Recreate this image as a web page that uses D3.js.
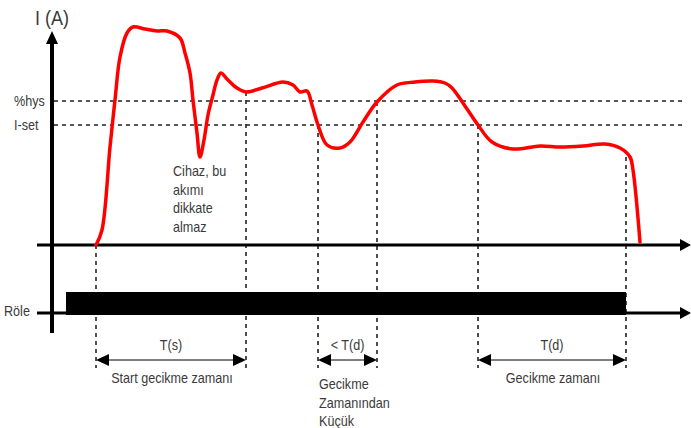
<!DOCTYPE html>
<html>
<head>
<meta charset="utf-8">
<script src="https://cdn.jsdelivr.net/npm/d3@7"></script>
<style>
  body { margin: 0; background: #fff; }
  svg text { font-family: "Liberation Sans Narrow", "Arial Narrow", "Liberation Sans", sans-serif; fill: #3a3a3a; }
</style>
</head>
<body>
<svg id="drawing_region"></svg>
<script>
// current curve (time, amps)
const curveT = [22, 25, 29, 31.5, 34, 37.5, 40.5, 46.5, 52.5, 57.5, 64, 66.5, 69, 70.5, 72.5, 74, 76, 78, 80.5, 82.5, 84.5, 87.5, 92.5, 97,
                105, 115.5, 120.5, 124, 127.5, 130, 133, 137.5, 144, 149, 155.5, 162.5, 172.5, 181.5, 190.5, 196.5, 200, 206.5,
                213, 220, 230.5, 244, 254, 265.5, 276.5, 284, 289, 290.5, 294];
const curveI = [0, 0.75, 4.9, 7.25, 9.4, 10.6, 10.9, 10.8, 10.7, 10.7, 10.35, 9.6, 8.6, 7.25, 5.6, 4.4, 5.25, 6.5, 7.5, 8.25, 8.6, 8.3, 7.85, 7.65,
                7.85, 8.15, 8.0, 7.65, 7.7, 7.0, 6.0, 5.0, 4.85, 5.15, 6.15, 7.15, 8.0, 8.15, 8.2, 8.1, 7.85, 6.95,
                6.0, 5.15, 4.8, 4.95, 4.9, 4.95, 5.05, 4.85, 4.4, 3.75, 0.15];

// threshold levels
const levelNames = ["%hys", "I-set"];
const levelValues = [7.2, 6];

// event markers (time, current at marker top)
const markerT = [22, 97, 133, 162.5, 213, 287];
const markerI = [0, 7.65, 6, 7.15, 6, 4.4];

// relay on interval
const relayOn = [7, 287];

// time spans below the chart
const spanFrom = [22, 133, 213];
const spanTo = [97, 162.5, 287];
const spanLabels = ["T(s)", "< T(d)", "T(d)"];
const spanNotes = [["Start gecikme zamanı"], ["Gecikme", "Zamanından", "Küçük"], ["Gecikme zamanı"]];

const noteLines = ["Cihaz, bu", "akımı", "dikkate", "almaz"];

const W = 691, H = 428;
const svg = d3.select("#drawing_region").attr("width", W).attr("height", H);

const x = d3.scaleLinear().domain([0, 320]).range([52, 692]);
const y = d3.scaleLinear().domain([0, 11]).range([245, 25]);
const yRelay = d3.scaleLinear().domain([0, 1]).range([313, 292]);

// condensed text helper
function label(tx, ty, str, size, anchor) {
  svg.append("text")
     .attr("transform", `translate(${tx},${ty}) scale(0.9,1)`)
     .attr("font-size", size || 14)
     .attr("text-anchor", anchor || "start")
     .text(str);
}

// dashed threshold lines
svg.selectAll(".lvl").data(levelValues).enter().append("line")
   .attr("x1", x(0) + 2).attr("x2", 682)
   .attr("y1", d => y(d)).attr("y2", d => y(d))
   .attr("stroke", "#222").attr("stroke-width", 1.6).attr("stroke-dasharray", "4,4");

levelNames.forEach((d, i) => label(14, y(levelValues[i]) + 5, d));

// dashed vertical markers
svg.selectAll(".mk").data(markerT).enter().append("line")
   .attr("x1", d => x(d)).attr("x2", d => x(d))
   .attr("y1", (d, i) => y(markerI[i])).attr("y2", 368)
   .attr("stroke", "#222").attr("stroke-width", 1.6).attr("stroke-dasharray", "4,4");

// relay bar
svg.append("rect")
   .attr("x", x(relayOn[0])).attr("width", x(relayOn[1]) - x(relayOn[0]))
   .attr("y", yRelay(1)).attr("height", yRelay(0) - yRelay(1) + 2)
   .attr("fill", "#000");

// horizontal axes with arrows
function hArrow(yy) {
  svg.append("line").attr("x1", 37).attr("x2", 682).attr("y1", yy).attr("y2", yy)
     .attr("stroke", "#000").attr("stroke-width", 3);
  svg.append("path").attr("d", `M680,${yy - 6}L691,${yy}L680,${yy + 6}Z`).attr("fill", "#000");
}
hArrow(y(0));
hArrow(yRelay(0));

// vertical axis
svg.append("line").attr("x1", x(0)).attr("x2", x(0)).attr("y1", 333).attr("y2", 42)
   .attr("stroke", "#000").attr("stroke-width", 4);
svg.append("path").attr("d", `M${x(0) - 6},44L${x(0)},31L${x(0) + 6},44Z`).attr("fill", "#000");

label(35, 25, "I (A)", 20);
label(4, 316, "Röle");

// current curve
const line = d3.line()
  .x((d, i) => x(curveT[i]))
  .y((d, i) => y(d))
  .curve(d3.curveCatmullRom.alpha(0.5));

svg.append("path").attr("d", line(curveI))
   .attr("fill", "none").attr("stroke", "#ff0000").attr("stroke-width", 3.5)
   .attr("stroke-linejoin", "round").attr("stroke-linecap", "round");

// note
noteLines.forEach((d, i) => label(173, 176 + i * 18.5, d));

// time spans
const spanY = 360;
spanFrom.forEach((s, i) => {
  const a = x(s), b = x(spanTo[i]);
  svg.append("line").attr("x1", a + 10).attr("x2", b - 10).attr("y1", spanY).attr("y2", spanY)
     .attr("stroke", "#000").attr("stroke-width", 1);
  svg.append("path").attr("d", `M${a},${spanY}L${a + 13},${spanY - 6}L${a + 13},${spanY + 6}Z`).attr("fill", "#000");
  svg.append("path").attr("d", `M${b},${spanY}L${b - 13},${spanY - 6}L${b - 13},${spanY + 6}Z`).attr("fill", "#000");
  label((a + b) / 2, 350, spanLabels[i], 14, "middle");
  const notes = spanNotes[i];
  if (notes.length === 1) {
    label((a + b) / 2 + 1, 383, notes[0], 14, "middle");
  } else {
    notes.forEach((n, j) => label(a + 1, 389 + j * 18.5, n));
  }
});
</script>
</body>
</html>
